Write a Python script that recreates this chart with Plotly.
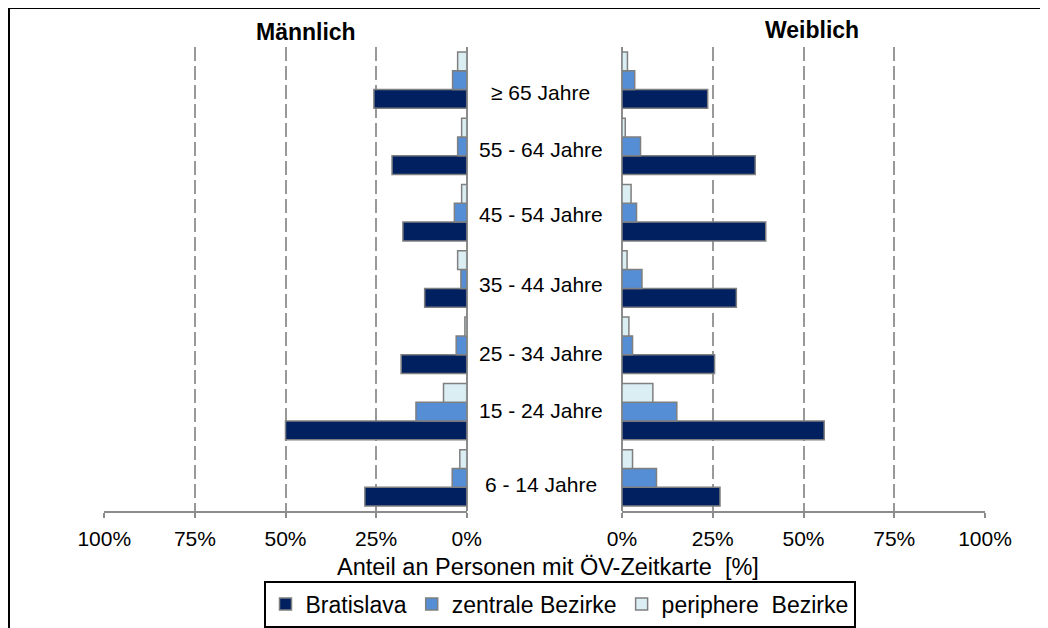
import plotly.graph_objects as go

# Categories from bottom to top
categories = ["6 - 14 Jahre", "15 - 24 Jahre", "25 - 34 Jahre", "35 - 44 Jahre",
              "45 - 54 Jahre", "55 - 64 Jahre", "≥ 65 Jahre"]

series_names = ["Bratislava", "zentrale Bezirke", "periphere  Bezirke"]

# Männlich (%)
male_bratislava = [28.1, 50.0, 18.1, 11.6, 17.6, 20.6, 25.6]
male_zentrale   = [4.0, 14.0, 2.9, 1.6, 3.4, 2.5, 3.9]
male_peripher   = [1.9, 6.4, 0.5, 2.5, 1.4, 1.4, 2.5]

# Weiblich (%)
female_bratislava = [27.0, 55.7, 25.5, 31.5, 39.6, 36.7, 23.6]
female_zentrale   = [9.5, 15.1, 2.9, 5.5, 4.0, 5.1, 3.5]
female_peripher   = [2.9, 8.5, 1.9, 1.4, 2.5, 0.9, 1.5]

tick_vals = [0, 25, 50, 75, 100]
tick_text = ["0%", "25%", "50%", "75%", "100%"]

colors = ["#002060", "#558ED5", "#DBEEF4"]
outline = "#7F7F7F"

# vertical nudge of each age label (px, negative = down), bottom to top
label_shift = [-7, 1, -8, -5, -2, -3, -12]

W, H = 1048, 628
OFF = 8  # page body margin
def px_x(p): return (p - OFF) / W
def px_y(p): return 1 - (p - OFF) / H

FONT = "Liberation Sans, Arial"

fig = go.Figure()

male = [male_bratislava, male_zentrale, male_peripher]
female = [female_bratislava, female_zentrale, female_peripher]

for i, name in enumerate(series_names):
    fig.add_trace(go.Bar(
        y=categories, x=male[i], orientation="h", name=name,
        marker=dict(color=colors[i], line=dict(color=outline, width=1.5)),
        xaxis="x", yaxis="y", legendgroup=name, showlegend=True,
    ))
for i, name in enumerate(series_names):
    fig.add_trace(go.Bar(
        y=categories, x=female[i], orientation="h", name=name,
        marker=dict(color=colors[i], line=dict(color=outline, width=1.5)),
        xaxis="x2", yaxis="y2", legendgroup=name, showlegend=False,
    ))

axis_common = dict(
    tickvals=tick_vals, ticktext=tick_text,
    showgrid=True, gridcolor="#999999", griddash="14px,5px", gridwidth=1.5,
    zeroline=True, zerolinecolor="#8C8C8C", zerolinewidth=1.5,
    showline=True, linecolor="#8C8C8C", linewidth=1.5,
    ticks="outside", ticklen=5, tickcolor="#8C8C8C", tickwidth=1.5,
    tickfont=dict(family=FONT, size=21, color="#000000"),
    ticklabelstandoff=3, automargin=False,
    fixedrange=True,
)

yaxis_common = dict(
    type="category", categoryorder="array", categoryarray=categories,
    range=[-0.5, len(categories) - 0.5],
    showticklabels=False, showgrid=False, zeroline=False, showline=False,
    ticks="", domain=[px_y(511), px_y(47)], fixedrange=True, automargin=False,
)

fig.update_layout(
    template="none",
    width=W, height=H, autosize=False,
    margin=dict(l=0, r=0, t=0, b=0, pad=0, autoexpand=False),
    paper_bgcolor="white", plot_bgcolor="white",
    barmode="group", bargap=0.15, bargroupgap=0.0,
    font=dict(family=FONT, color="#000000"),
    xaxis=dict(domain=[px_x(104.3), px_x(466.7)], range=[100, 0], anchor="y", **axis_common),
    xaxis2=dict(domain=[px_x(622), px_x(985)], range=[0, 100], anchor="y2", **axis_common),
    yaxis=dict(anchor="x", **yaxis_common),
    yaxis2=dict(anchor="x2", **yaxis_common),
    legend=dict(
        orientation="h", x=px_x(559.5), xanchor="center", y=px_y(604), yanchor="middle",
        bordercolor="#000000", borderwidth=2, bgcolor="white",
        font=dict(family=FONT, size=23, color="#000000"),
        traceorder="normal",
    ),
    showlegend=True,
)

annotations = []
for cat, sh in zip(categories, label_shift):
    annotations.append(dict(
        x=px_x(541), xref="paper", y=cat, yref="y", text=cat, showarrow=False,
        xanchor="center", yanchor="middle", yshift=sh,
        font=dict(family=FONT, size=21, color="#000000"),
    ))
annotations.append(dict(x=px_x(306), y=px_y(32), xref="paper", yref="paper",
                        text="<b>Männlich</b>", showarrow=False, xanchor="center", yanchor="middle",
                        font=dict(family=FONT, size=23, color="#000000")))
annotations.append(dict(x=px_x(812), y=px_y(30), xref="paper", yref="paper",
                        text="<b>Weiblich</b>", showarrow=False, xanchor="center", yanchor="middle",
                        font=dict(family=FONT, size=23, color="#000000")))
annotations.append(dict(x=px_x(548), y=px_y(567), xref="paper", yref="paper",
                        text="Anteil an Personen mit ÖV-Zeitkarte  [%]", showarrow=False,
                        xanchor="center", yanchor="middle",
                        font=dict(family=FONT, size=23.5, color="#000000")))
fig.update_layout(annotations=annotations)

# Outer frame lines
fig.update_layout(shapes=[
    dict(type="line", xref="paper", yref="paper", x0=px_x(9), x1=1, y0=px_y(8), y1=px_y(8),
         line=dict(color="#000000", width=2)),
    dict(type="line", xref="paper", yref="paper", x0=px_x(9), x1=px_x(9), y0=px_y(8), y1=0,
         line=dict(color="#000000", width=2)),
])

fig.write_html("out.html")
